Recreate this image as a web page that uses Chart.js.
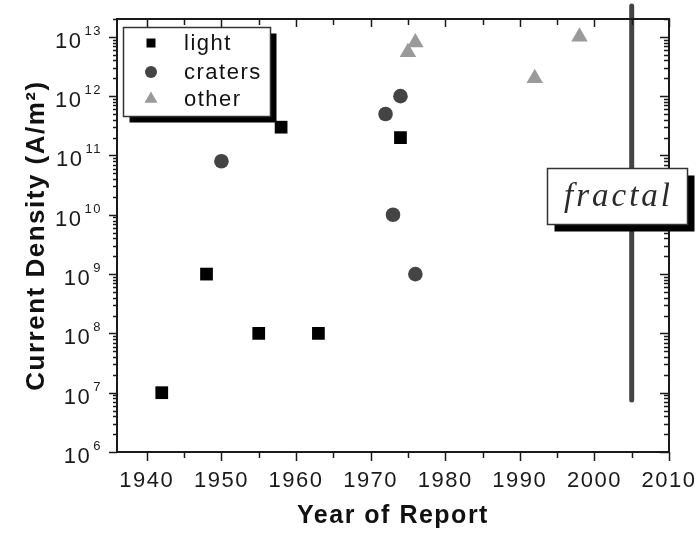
<!DOCTYPE html>
<html>
<head>
<meta charset="utf-8">
<script src="https://cdn.jsdelivr.net/npm/chart.js@4.4.0/dist/chart.umd.min.js"></script>
<style>
  html, body { margin: 0; padding: 0; background: #fff; }
  canvas { display: block; }
</style>
</head>
<body>
<canvas id="chart" width="699" height="535"></canvas>
<script>
// data
const lightYears = [1942, 1948, 1955, 1958, 1963, 1974];
const lightDensity = [1e7, 1e9, 1e8, 3e11, 1e8, 2e11];

const craterYears = [1950, 1972, 1973, 1974, 1976];
const craterDensity = [8e10, 5e11, 1e10, 1e12, 1e9];

const otherYears = [1975, 1976, 1992, 1998];
const otherDensity = [5.5e12, 8e12, 2e12, 1e13];

// the "fractal" marker line
const fractalYears = [2005, 2005];
const fractalDensity = [7.5e6, 3.3e13];

const seriesLabels = ["light", "craters", "other"];
const fractalLabel = "fractal";

// tick labels
const yearTicks = [1940, 1950, 1960, 1970, 1980, 1990, 2000, 2010];
const yearMinorTicks = [1945, 1955, 1965, 1975, 1985, 1995, 2005];
const decadeExponents = [6, 7, 8, 9, 10, 11, 12, 13];

const SANS = "'Liberation Sans', Arial, sans-serif";
const INK = "#1a1a1a";

function points(xs, ys) {
    return xs.map((x, i) => ({ x: x, y: ys[i] }));
}

// letter spacing like the original figure
const spacingPlugin = {
    id: "spacing",
    beforeInit(chart) { chart.ctx.letterSpacing = "1.5px"; },
    beforeUpdate(chart) { chart.ctx.letterSpacing = "1.5px"; },
    beforeDraw(chart) {
        const ctx = chart.ctx;
        ctx.save();
        ctx.fillStyle = "#fff";
        ctx.fillRect(0, 0, chart.width, chart.height);
        ctx.restore();
        ctx.letterSpacing = "1.5px";
    }
};

// frame, tick marks, superscript labels, legend and the fractal box
const decorPlugin = {
    id: "decor",
    afterDatasetsDraw(chart) {
        const ctx = chart.ctx;
        const a = chart.chartArea;
        const xs = chart.scales.x;
        const ys = chart.scales.y;
        ctx.save();

        // frame
        ctx.strokeStyle = INK;
        ctx.lineWidth = 2;
        ctx.strokeRect(a.left, a.top, a.right - a.left, a.bottom - a.top);

        // x ticks
        ctx.lineWidth = 1.5;
        ctx.beginPath();
        yearTicks.concat(yearMinorTicks).forEach(v => {
            const major = yearTicks.includes(v);
            const px = Math.round(xs.getPixelForValue(v)) + 0.5;
            ctx.moveTo(px, a.bottom);
            ctx.lineTo(px, a.bottom + (major ? 9 : 6));
            ctx.moveTo(px, a.top);
            ctx.lineTo(px, a.top + (major ? 8 : 6));
        });
        // y ticks
        decadeExponents.forEach(e => {
            for (let m = 1; m <= 9; m++) {
                const v = m * Math.pow(10, e);
                if (v > ys.max) break;
                const py = Math.round(ys.getPixelForValue(v)) + 0.5;
                const major = m === 1;
                ctx.moveTo(a.left, py);
                ctx.lineTo(a.left - (major ? 8 : 4), py);
                ctx.moveTo(a.right, py);
                ctx.lineTo(a.right - (major ? 9 : 5), py);
            }
        });
        ctx.stroke();

        // y labels: 10 with raised exponent
        ctx.fillStyle = INK;
        ctx.textAlign = "right";
        ctx.textBaseline = "alphabetic";
        decadeExponents.forEach(e => {
            const py = ys.getPixelForValue(Math.pow(10, e));
            const rx = a.left - 15;
            ctx.font = "13px " + SANS;
            const w = ctx.measureText(String(e)).width;
            ctx.fillText(String(e), rx, py - 2);
            ctx.font = "22px " + SANS;
            ctx.fillText("10", rx - w - 2, py + 11);
        });

        // legend box with drop shadow
        const lx = 123.5, ly = 27.5, lw = 147, lh = 89;
        ctx.fillStyle = "#000";
        ctx.fillRect(lx + 6, ly + 6, lw, lh);
        ctx.fillStyle = "#fff";
        ctx.fillRect(lx, ly, lw, lh);
        ctx.strokeStyle = "#333";
        ctx.lineWidth = 1.5;
        ctx.strokeRect(lx, ly, lw, lh);

        const rows = [43, 72, 99];
        const mx = 151;
        chart.data.datasets.slice(0, 3).forEach((ds, i) => {
            const cy = rows[i];
            ctx.fillStyle = ds.backgroundColor;
            ctx.beginPath();
            if (ds.pointStyle === "rect") {
                ctx.rect(mx - 4.5, cy - 4.5, 9, 9);
            } else if (ds.pointStyle === "circle") {
                ctx.arc(mx, cy, 6, 0, Math.PI * 2);
            } else {
                const r = 7.5;
                ctx.moveTo(mx, cy - r);
                ctx.lineTo(mx + r * 0.866, cy + r * 0.5);
                ctx.lineTo(mx - r * 0.866, cy + r * 0.5);
                ctx.closePath();
            }
            ctx.fill();
            ctx.fillStyle = "#111";
            ctx.font = "22px " + SANS;
            ctx.textAlign = "left";
            ctx.textBaseline = "middle";
            ctx.fillText(ds.label, 184, cy + 1);
        });

        // fractal box
        const fx = 547.5, fy = 168.5, fw = 140, fh = 56;
        ctx.fillStyle = "#000";
        ctx.fillRect(fx + 7, fy + 7, fw, fh);
        ctx.fillStyle = "#fff";
        ctx.fillRect(fx, fy, fw, fh);
        ctx.strokeStyle = "#333";
        ctx.lineWidth = 1.5;
        ctx.strokeRect(fx, fy, fw, fh);
        ctx.fillStyle = "#2a2a2a";
        ctx.letterSpacing = "3px";
        ctx.font = "italic 33px 'Liberation Serif', 'Times New Roman', serif";
        ctx.textAlign = "center";
        ctx.textBaseline = "alphabetic";
        ctx.fillText(fractalLabel, fx + fw / 2 + 1, 206);
        ctx.letterSpacing = "1.5px";

        ctx.restore();
    }
};

const canvas = document.getElementById("chart");

new Chart(canvas, {
    type: "scatter",
    data: {
        datasets: [
            {
                label: seriesLabels[0],
                data: points(lightYears, lightDensity),
                pointStyle: "rect",
                pointRadius: 9,
                backgroundColor: "#000",
                borderColor: "#000",
                borderWidth: 0
            },
            {
                label: seriesLabels[1],
                data: points(craterYears, craterDensity),
                pointStyle: "circle",
                pointRadius: 7.3,
                backgroundColor: "#444",
                borderColor: "#444",
                borderWidth: 0
            },
            {
                label: seriesLabels[2],
                data: points(otherYears, otherDensity),
                pointStyle: "triangle",
                pointRadius: 9.5,
                backgroundColor: "#9a9a9a",
                borderColor: "#9a9a9a",
                borderWidth: 0
            },
            {
                type: "line",
                label: fractalLabel,
                data: points(fractalYears, fractalDensity),
                borderColor: "#444",
                borderWidth: 5,
                borderCapStyle: "round",
                pointRadius: 0,
                clip: false
            }
        ]
    },
    options: {
        responsive: false,
        animation: false,
        devicePixelRatio: 1,
        layout: { padding: { left: 0, top: 19, right: 30, bottom: 0 } },
        plugins: {
            legend: { display: false },
            tooltip: { enabled: false }
        },
        scales: {
            x: {
                type: "linear",
                min: 1936,
                max: 2010,
                grid: { display: false, drawTicks: false },
                border: { display: false },
                afterBuildTicks: s => { s.ticks = yearTicks.map(v => ({ value: v })); },
                afterFit: s => {
                    s.height = 83;
                    s.paddingLeft = 0;
                    s.paddingRight = 0;
                },
                ticks: {
                    autoSkip: false,
                    maxRotation: 0,
                    padding: 16,
                    color: INK,
                    font: { family: SANS, size: 22 },
                    callback: v => String(v)
                },
                title: {
                    display: true,
                    text: "Year of Report",
                    color: "#111",
                    font: { family: SANS, size: 25, weight: "bold" },
                    padding: { top: 0, bottom: 4 }
                }
            },
            y: {
                type: "logarithmic",
                min: 1e6,
                max: 2e13,
                grid: { display: false, drawTicks: false },
                border: { display: false },
                ticks: { display: false },
                afterFit: s => { s.width = 117; },
                title: {
                    display: true,
                    text: "Current Density (A/m²)",
                    color: "#111",
                    font: { family: SANS, size: 26, weight: "bold" },
                    padding: { top: 21, bottom: 0 }
                }
            }
        }
    },
    plugins: [spacingPlugin, decorPlugin]
});
</script>
</body>
</html>
